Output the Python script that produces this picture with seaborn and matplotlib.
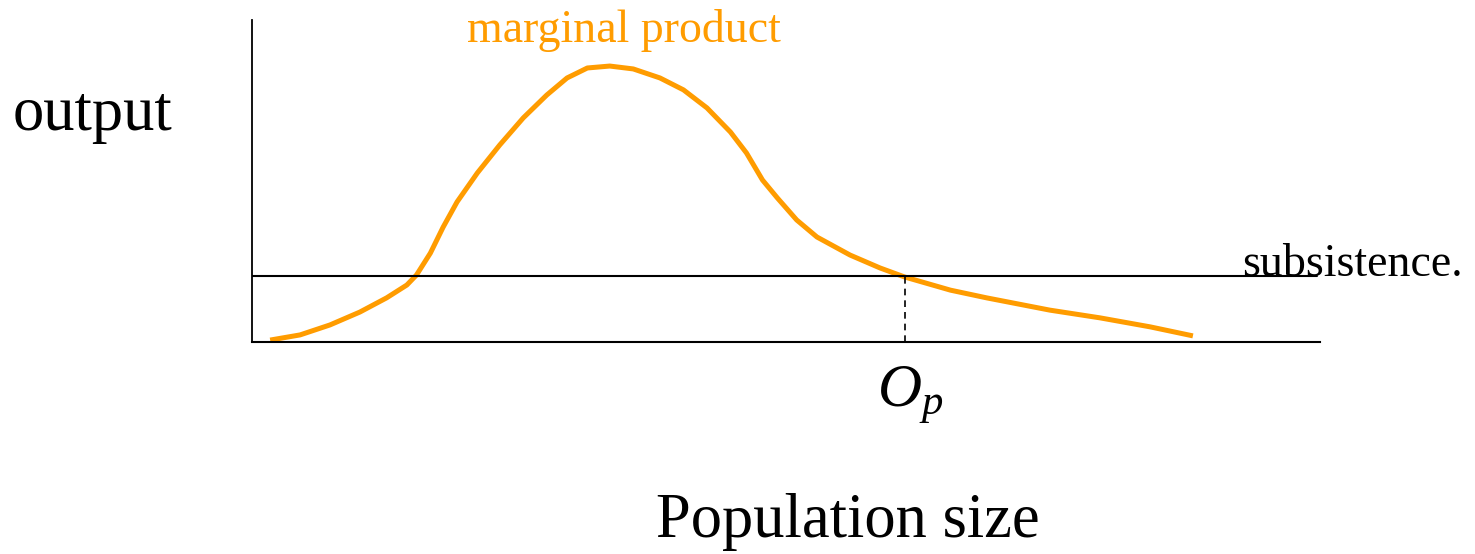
import matplotlib
matplotlib.use("Agg")
import matplotlib.pyplot as plt
import seaborn as sns
import pandas as pd

# population size (x) and marginal product (y)
population = [1.7, 4.5, 7.3, 10.1, 12.6, 14.5, 15.4, 16.7, 17.9, 19.2, 21.1, 23.2,
              25.4, 27.6, 29.5, 31.4, 33.5, 35.7, 38.2, 40.4, 42.6, 44.8, 46.3, 47.8,
              49.2, 51.0, 52.9, 56.0, 58.8, 61.1, 65.4, 68.8, 74.7, 79.4, 84.1, 88.1]
marginal = [0.6, 2.2, 5.3, 9.3, 13.7, 17.7, 20.8, 27.6, 35.7, 43.5, 52.5, 61.2,
            69.6, 76.7, 82.0, 85.1, 85.7, 84.8, 82.0, 78.3, 72.7, 65.2, 58.7, 50.3,
            44.7, 37.9, 32.6, 27.0, 23.0, 20.2, 16.1, 13.7, 9.9, 7.5, 4.7, 1.9]
subsistence = 20.5
optimum = 61.1

df = pd.DataFrame({'population': population, 'marginal': marginal})

sns.set_style('white')
plt.rcParams['font.family'] = ['Liberation Serif', 'DejaVu Serif']
plt.rcParams['text.color'] = 'black'
plt.rcParams['mathtext.fontset'] = 'custom'
plt.rcParams['mathtext.rm'] = 'Liberation Serif'
plt.rcParams['mathtext.it'] = 'Liberation Serif:italic'

orange = '#FF9C00'

fig = plt.figure(figsize=(14.75, 5.54), dpi=100)
ax = fig.add_axes([252 / 1475, 1 - 342 / 554, 1068 / 1475, 322 / 554])

sns.lineplot(data=df, x='population', y='marginal', ax=ax, sort=False,
             estimator=None, color=orange, linewidth=3.6,
             solid_capstyle='butt', solid_joinstyle='round')

# subsistence level and optimum population
ax.axhline(subsistence, xmin=0, xmax=0.997, color='black', linewidth=1.5)
ax.vlines(optimum, 0, subsistence, colors='black', linestyles=(0, (4, 3)), linewidth=1.2)

ax.set_xlim(0, 100)
ax.set_ylim(0, 100)
ax.set_xticks([])
ax.set_yticks([])
ax.set_xlabel('')
ax.set_ylabel('')
sns.despine(ax=ax)
ax.spines['left'].set_linewidth(1.3)
ax.spines['bottom'].set_linewidth(1.5)
ax.spines['left'].set_color('black')
ax.spines['bottom'].set_color('black')

# labels
fig.text(13 / 1475, 1 - 115 / 554, 'output', fontsize=45, ha='left', va='center')
fig.text(848 / 1475, 1 - 522 / 554, 'Population size', fontsize=45, ha='center', va='center')
fig.text(624 / 1475, 1 - 31 / 554, 'marginal product', fontsize=33, color=orange,
         ha='center', va='center')
fig.text(1242 / 1475, 1 - 276 / 554, 'subsistence.', fontsize=33, ha='left', va='baseline')
fig.text(910 / 1475, 1 - 395 / 554, r'$O_p$', fontsize=44, ha='center', va='center')

plt.savefig('out.png', dpi=100)
